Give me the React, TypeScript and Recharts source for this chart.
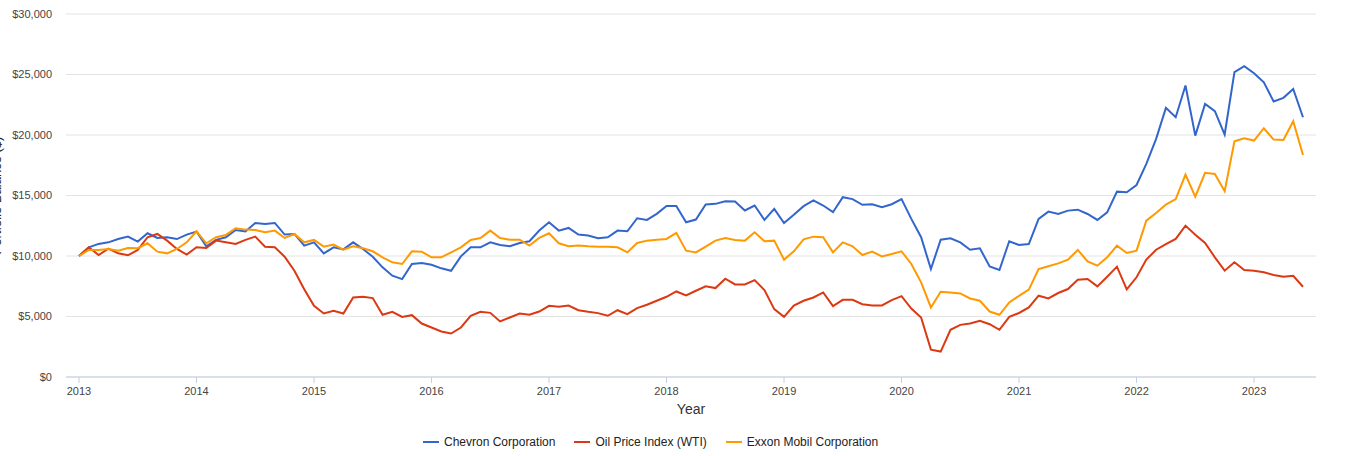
import React from 'react';
import {
  LineChart,
  Line,
  XAxis,
  YAxis,
  CartesianGrid,
  Legend
} from 'recharts';

// monthly ending balances, Jan 2013 .. Jun 2023
const chevron = [
  10000, 10720, 11000, 11130, 11400, 11600, 11190, 11880, 11490, 11550, 11400, 11770,
  12020, 10800, 11330, 11550, 12150, 12020, 12730, 12650, 12730, 11770, 11820, 10860,
  11130, 10220, 10720, 10550, 11130, 10580, 9940, 9060, 8370, 8090, 9340, 9420,
  9280, 8980, 8780, 9970, 10720, 10720, 11130, 10910, 10800, 11080, 11220, 12100,
  12790, 12100, 12320, 11770, 11690, 11460, 11550, 12100, 12040, 13120, 12980, 13480,
  14140, 14140, 12790, 13010, 14250, 14310, 14530, 14500, 13760, 14170, 12980, 13900,
  12730, 13400, 14120, 14590, 14170, 13620, 14860, 14700, 14230, 14280, 14030, 14280,
  14700, 13070, 11550, 8920, 11350, 11460, 11130, 10520, 10640, 9140, 8840, 11220,
  10910, 10990, 13060, 13670, 13470, 13750, 13830, 13470, 12980, 13610, 15320, 15270,
  15870, 17610, 19680, 22240, 21470, 24090, 19950, 22570, 21970, 20040, 25190, 25690,
  25110, 24360, 22770, 23070, 23810, 21470
];

const oilWti = [
  10000, 10720, 10080, 10610, 10220, 10060, 10500, 11550, 11820, 11270, 10580, 10110,
  10720, 10660, 11270, 11130, 11000, 11330, 11600, 10770, 10720, 9940, 8780, 7260,
  5880, 5250, 5470, 5250, 6570, 6630, 6520, 5140, 5390, 4970, 5110, 4420,
  4090, 3760, 3590, 4090, 5060, 5390, 5300, 4590, 4920, 5250, 5140, 5410,
  5880, 5800, 5910, 5520, 5390, 5280, 5060, 5520, 5190, 5690, 5970, 6300,
  6630, 7070, 6740, 7130, 7490, 7350, 8120, 7650, 7650, 8010, 7180, 5610,
  4970, 5910, 6300, 6570, 6990, 5860, 6380, 6380, 6020, 5910, 5910, 6350,
  6680, 5660, 4920, 2260, 2100, 3900, 4310, 4420, 4640, 4360, 3900, 4970,
  5290, 5750, 6720, 6500, 6940, 7270, 8040, 8100, 7490, 8290, 9120, 7240,
  8240, 9700, 10520, 10990, 11410, 12510, 11760, 11080, 9890, 8790, 9480, 8840,
  8790, 8650, 8430, 8290, 8370, 7460
];

const exxon = [
  10000, 10500, 10500, 10580, 10440, 10660, 10640, 11050, 10360, 10220, 10580, 11130,
  12040, 11050, 11550, 11740, 12290, 12180, 12150, 11960, 12100, 11490, 11820, 11130,
  11330, 10770, 10940, 10520, 10800, 10640, 10390, 9890, 9480, 9340, 10390, 10360,
  9890, 9890, 10300, 10720, 11330, 11490, 12100, 11490, 11350, 11350, 10860, 11490,
  11880, 11050, 10800, 10860, 10800, 10770, 10770, 10720, 10300, 11080, 11270, 11350,
  11410, 11910, 10440, 10300, 10770, 11270, 11490, 11330, 11270, 11960, 11220, 11270,
  9700, 10390, 11380, 11600, 11550, 10300, 11130, 10800, 10080, 10360, 9970, 10170,
  10390, 9340, 7820, 5750, 7040, 6990, 6910, 6490, 6300, 5410, 5140, 6160,
  6710, 7220, 8920, 9150, 9390, 9700, 10500, 9560, 9200, 9890, 10850, 10250,
  10440, 12920, 13560, 14250, 14710, 16730, 14910, 16870, 16780, 15350, 19480, 19730,
  19540, 20560, 19620, 19590, 21140, 18350
];

const years = ['2013', '2014', '2015', '2016', '2017', '2018', '2019', '2020', '2021', '2022', '2023'];
const yTicks = [0, 5000, 10000, 15000, 20000, 25000, 30000];

const series = [
  { key: 'chevron', name: 'Chevron Corporation', color: '#3366cc' },
  { key: 'oil', name: 'Oil Price Index (WTI)', color: '#dc3912' },
  { key: 'exxon', name: 'Exxon Mobil Corporation', color: '#ff9900' }
];

const data = chevron.map((v, i) => ({
  m: i,
  chevron: v,
  oil: oilWti[i],
  exxon: exxon[i]
}));

const FONT = 'Arial, "Liberation Sans", sans-serif';
const axisBlue = '#c3cfe3';

const LegendContent = () => (
  <div style={{ display: 'flex', paddingLeft: 423, height: 20, alignItems: 'center', fontFamily: FONT, fontSize: 12, color: '#222' }}>
    {series.map(s => (
      <div key={s.key} style={{ display: 'flex', alignItems: 'center', marginRight: 19 }}>
        <div style={{ width: 16, height: 2, background: s.color, marginRight: 5 }} />
        <span>{s.name}</span>
      </div>
    ))}
  </div>
);

const YLabel = (props: any) => {
  const vb = props.viewBox || { x: 0, y: 0, width: 0, height: 0 };
  const cx = vb.x + 1;
  const cy = vb.y + vb.height / 2;
  return (
    <text x={cx} y={cy} transform={`rotate(-90 ${cx} ${cy})`} textAnchor="middle"
      fontFamily={FONT} fontSize={13} fill="#222">
      Portfolio Balance ($)
    </text>
  );
};

export default function App() {
  return (
    <div style={{ position: 'absolute', left: 0, top: 0, width: 1347, height: 456, background: '#fff' }}>
      <LineChart width={1347} height={456} data={data} margin={{ top: 14, right: 31, bottom: 19, left: 0 }}>
        <CartesianGrid vertical={false} stroke="#e3e3e3" />
        <XAxis
          dataKey="m"
          type="number"
          domain={[0, 125]}
          ticks={years.map((_, i) => i * 12)}
          tickFormatter={(v: number) => years[v / 12]}
          padding={{ left: 13, right: 13 }}
          height={40}
          stroke={axisBlue}
          tickSize={6}
          tickMargin={4}
          tick={{ fill: '#444', fontSize: 11, fontFamily: FONT }}
          label={{ value: 'Year', position: 'insideBottom', offset: 3, fill: '#333', fontSize: 14, fontFamily: FONT }}
        />
        <YAxis
          width={66}
          domain={[0, 30000]}
          ticks={yTicks}
          axisLine={false}
          tickLine={false}
          tickSize={0}
          tickMargin={14}
          tickFormatter={(v: number) => '$' + v.toLocaleString('en-US')}
          tick={{ fill: '#444', fontSize: 11, fontFamily: FONT }}
          label={<YLabel />}
        />
        <Legend content={<LegendContent />} verticalAlign="bottom" wrapperStyle={{ top: 432, left: 0, bottom: 'auto', height: 20 }} />
        {series.map(s => (
          <Line
            key={s.key}
            dataKey={s.key}
            name={s.name}
            stroke={s.color}
            strokeWidth={2}
            dot={false}
            type="linear"
            isAnimationActive={false}
          />
        ))}
      </LineChart>
    </div>
  );
}
